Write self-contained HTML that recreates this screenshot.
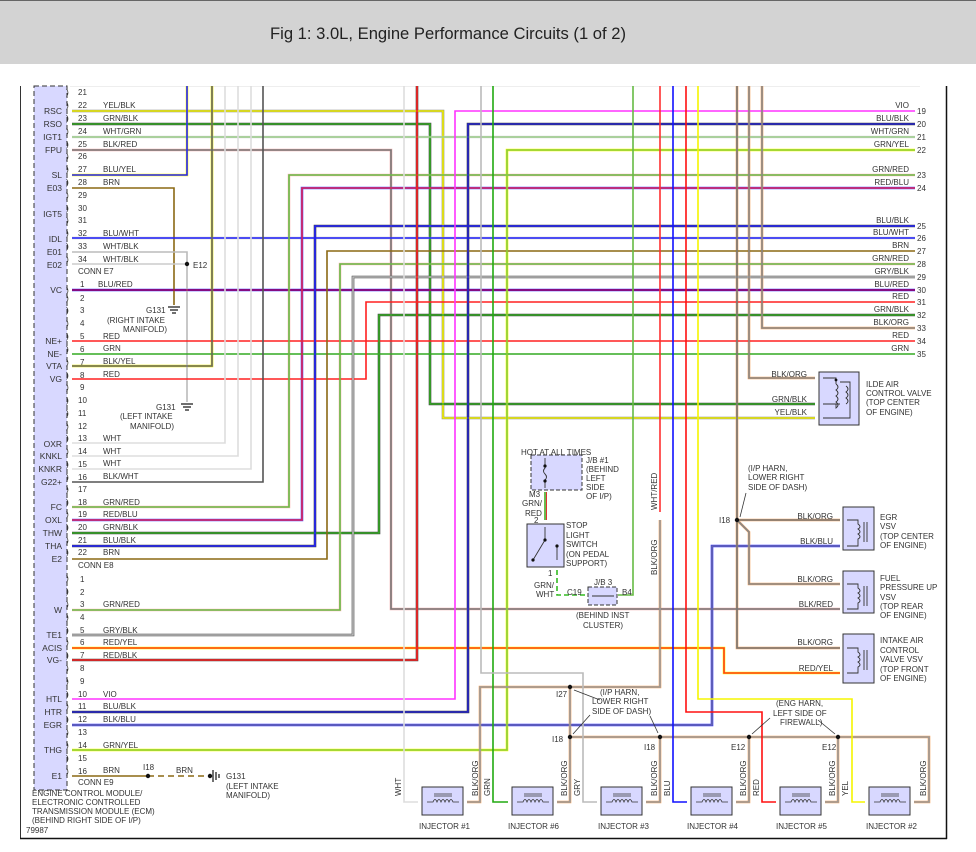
<!DOCTYPE html>
<html><head><meta charset="utf-8"><style>
html,body{margin:0;padding:0;background:#fff;}
svg{display:block;font-family:"Liberation Sans",sans-serif;}
polyline,line,path{fill:none;}
.t{font-size:8px;fill:#333;}
.tp{font-size:8.5px;fill:#333;}
</style></head><body>
<svg width="976" height="852" viewBox="0 0 976 852" xmlns="http://www.w3.org/2000/svg">
<rect x="0" y="0" width="976" height="64" fill="#d3d3d3"/>
<line x1="0" y1="0.5" x2="976" y2="0.5" stroke="#666" stroke-width="1"/>
<text x="448" y="39" text-anchor="middle" font-size="17" fill="#222" textLength="356" lengthAdjust="spacingAndGlyphs">Fig 1: 3.0L, Engine Performance Circuits (1 of 2)</text>
<line x1="70" y1="86.5" x2="920" y2="86.5" stroke="#eee"/>
<!-- frame -->
<line x1="20.5" y1="86" x2="20.5" y2="839" stroke="#333"/>
<line x1="946.5" y1="86" x2="946.5" y2="839" stroke="#111" stroke-width="1.5"/>
<line x1="20" y1="838.5" x2="947" y2="838.5" stroke="#111" stroke-width="1.5"/>
<!-- ECM box -->
<rect x="34" y="86" width="33" height="704" fill="#d8d8ff" stroke="#333" stroke-dasharray="5,3"/>

<!-- wires: underlayer (secondary colour) -->
<g stroke-width="2.6">
<polyline stroke="#888" points="72,111 443,111 443,418 815,418"/>
<polyline stroke="#444" points="72,124 430,124 430,404 815,404"/>
<polyline stroke="#ddd" points="72,137 915,137"/>
<polyline stroke="#f4b0b0" points="72,150 391,150 391,609 840,609"/>
<polyline stroke="#ff0" points="72,175 187,175 187,86"/>
<polyline stroke="#ccc" points="72,238 915,238"/>
<polyline stroke="#3333ff" points="72,290 915,290"/>
<polyline stroke="#ee0" points="72,366 212,366 212,86"/>
<polyline stroke="#fbb" points="72,507 289,507 289,175 915,175"/>
<polyline stroke="#5555ff" points="72,520 302,520 302,188 915,188"/>
<polyline stroke="#444" points="72,533 379,533 379,315 915,315"/>
<polyline stroke="#444" points="72,546 315,546 315,226 915,226"/>
<polyline stroke="#fbb" points="72,610 340,610 340,264 915,264"/>
<polyline stroke="#444" points="72,635 353,635 353,277 915,277"/>
<polyline stroke="#ff0" points="72,648 724,648 724,673 840,673"/>
<polyline stroke="#444" points="72,660 417,660 417,86"/>
<polyline stroke="#444" points="72,712 468,712 468,124 915,124"/>
<polyline stroke="#3333ff" points="72,725 712,725 712,546 840,546"/>
<polyline stroke="#ff0" points="72,750 507,750 507,150 915,150"/>
<polyline stroke="#f4a460" points="915,328 762,328 762,86"/>
<polyline stroke="#f4a460" points="749,86 749,378 815,378"/>
<polyline stroke="#f4a460" points="737,86 737,648 840,648"/>
<polyline stroke="#f4a460" points="737,520 840,520"/>
<polyline stroke="#f4a460" points="737,520 749,532 749,584 840,584"/>
<polyline stroke="#f4a460" points="660,520 660,687 480,687 480,802 467,802"/>
<polyline stroke="#f4a460" points="570,687 570,802 557,802"/>
<polyline stroke="#f4a460" points="570,737 929,737 929,802 914,802"/>
<polyline stroke="#f4a460" points="660,737 660,802 646,802"/>
<polyline stroke="#f4a460" points="749,737 749,802 736,802"/>
<polyline stroke="#f4a460" points="838,737 838,802 825,802"/>
</g>
<!-- wires: main colour -->
<g stroke-width="1.6">
<polyline stroke="#f0f000" points="72,111 443,111 443,418 815,418"/>
<polyline stroke="#33aa22" points="72,124 430,124 430,404 815,404"/>
<polyline stroke="#99cc88" points="72,137 915,137"/>
<polyline stroke="#777" points="72,150 391,150 391,609 840,609"/>
<polyline stroke="#2222ff" points="72,175 187,175 187,86"/>
<polyline stroke="#8b6914" points="72,188 174,188 174,305"/>
<polyline stroke="#2222ff" points="72,238 915,238"/>
<polyline stroke="#bbb" points="72,252 187,252 187,402"/>
<polyline stroke="#ccc" points="72,264 187,264"/>
<polyline stroke="#a0005a" points="72,290 915,290"/>
<polyline stroke="#ff2020" points="72,341 915,341"/>
<polyline stroke="#33aa22" points="72,354 915,354"/>
<polyline stroke="#666" points="72,366 212,366 212,86"/>
<polyline stroke="#ff2020" points="72,379 366,379 366,302 915,302"/>
<polyline stroke="#ddd" points="72,443 225,443 225,86"/>
<polyline stroke="#ddd" points="72,456 238,456 238,86"/>
<polyline stroke="#ddd" points="72,469 251,469 251,86"/>
<polyline stroke="#555" points="72,482 263,482 263,86"/>
<polyline stroke="#66bb44" points="72,507 289,507 289,175 915,175"/>
<polyline stroke="#dd2255" points="72,520 302,520 302,188 915,188"/>
<polyline stroke="#33aa22" points="72,533 379,533 379,315 915,315"/>
<polyline stroke="#2222ff" points="72,546 315,546 315,226 915,226"/>
<polyline stroke="#8b6914" points="72,559 327,559 327,251 915,251"/>
<polyline stroke="#66bb44" points="72,610 340,610 340,264 915,264"/>
<polyline stroke="#bbb" points="72,635 353,635 353,277 915,277"/>
<polyline stroke="#ff3b1b" points="72,648 724,648 724,673 840,673"/>
<polyline stroke="#ff2020" points="72,660 417,660 417,86"/>
<polyline stroke="#ff33ff" points="72,699 455,699 455,111 915,111"/>
<polyline stroke="#2222cc" points="72,712 468,712 468,124 915,124"/>
<polyline stroke="#6666aa" points="72,725 712,725 712,546 840,546"/>
<polyline stroke="#88cc44" points="72,750 507,750 507,150 915,150"/>
<polyline stroke="#8b6914" points="72,776 148,776"/>
<polyline stroke="#8b6914" stroke-dasharray="6,4" points="148,776 210,776"/>
<polyline stroke="#888" points="915,328 762,328 762,86"/>
<polyline stroke="#888" points="749,86 749,378 815,378"/>
<polyline stroke="#777" points="737,86 737,648 840,648"/>
<polyline stroke="#777" points="737,520 840,520"/>
<polyline stroke="#888" points="737,520 749,532 749,584 840,584"/>
<polyline stroke="#ff3030" points="660,86 660,512"/>
<polyline stroke="#999" points="660,520 660,687 480,687 480,802 467,802"/>
<polyline stroke="#999" points="570,687 570,802 557,802"/>
<polyline stroke="#999" points="570,737 929,737 929,802 914,802"/>
<polyline stroke="#999" points="660,737 660,802 646,802"/>
<polyline stroke="#999" points="749,737 749,802 736,802"/>
<polyline stroke="#999" points="838,737 838,802 825,802"/>
<polyline stroke="#ddd" points="404,86 404,802 418,802"/>
<polyline stroke="#22aa11" points="493,86 493,802 508,802"/>
<polyline stroke="#bbb" points="481,86 481,673 583,673 583,802 597,802"/>
<polyline stroke="#1111ff" points="673,86 673,802 687,802"/>
<polyline stroke="#ff1010" points="686,86 686,712 762,712 762,802 776,802"/>
<polyline stroke="#f5f500" points="698,86 698,699 852,699 852,802 865,802"/>
<polyline stroke="#66bb44" points="633,86 633,595 618,595"/>
<polyline stroke="#44aa22" points="545,492 545,520"/>
<polyline stroke="#33bb22" stroke-dasharray="5,3" points="557,570 557,595 586,595"/>
</g>
<line x1="546.5" y1="492" x2="546.5" y2="520" stroke="#d33" stroke-width="1"/>

<!-- dots / grounds -->
<g fill="#111">
<circle cx="187" cy="264" r="2.2"/>
<circle cx="148" cy="776" r="2.2"/><circle cx="210" cy="776" r="2.2"/>
<circle cx="570" cy="687" r="2.2"/><circle cx="570" cy="737" r="2.2"/>
<circle cx="660" cy="737" r="2.2"/><circle cx="749" cy="737" r="2.2"/><circle cx="838" cy="737" r="2.2"/>
<circle cx="737" cy="520" r="2.2"/>
</g>
<g stroke="#111" stroke-width="1.2">
<line x1="168" y1="307" x2="180" y2="307"/><line x1="170" y1="310" x2="178" y2="310"/><line x1="172" y1="313" x2="176" y2="313"/>
<line x1="181" y1="404" x2="193" y2="404"/><line x1="183" y1="407" x2="191" y2="407"/><line x1="185" y1="410" x2="189" y2="410"/>
<line x1="213" y1="770" x2="213" y2="782"/><line x1="216" y1="772" x2="216" y2="780"/><line x1="219" y1="774" x2="219" y2="778"/>
</g>

<!-- pin symbols -->
<g class="tp">
<text x="66" y="95">)</text><text x="66" y="108">)</text><text x="66" y="121">)</text><text x="66" y="134">)</text><text x="66" y="147">)</text><text x="66" y="159">)</text><text x="66" y="172">)</text><text x="66" y="185">)</text><text x="66" y="198">)</text><text x="66" y="211">)</text><text x="66" y="223">)</text><text x="66" y="236">)</text><text x="66" y="249">)</text><text x="66" y="262">)</text>
<text x="66" y="293">)</text><text x="66" y="301">)</text><text x="66" y="313">)</text><text x="66" y="326">)</text><text x="66" y="339">)</text><text x="66" y="352">)</text><text x="66" y="365">)</text><text x="66" y="378">)</text><text x="66" y="390">)</text><text x="66" y="403">)</text><text x="66" y="416">)</text><text x="66" y="429">)</text><text x="66" y="441">)</text><text x="66" y="454">)</text><text x="66" y="467">)</text><text x="66" y="480">)</text><text x="66" y="492">)</text><text x="66" y="505">)</text><text x="66" y="517">)</text><text x="66" y="530">)</text><text x="66" y="543">)</text><text x="66" y="555">)</text>
<text x="66" y="581">)</text><text x="66" y="594">)</text><text x="66" y="607">)</text><text x="66" y="620">)</text><text x="66" y="633">)</text><text x="66" y="645">)</text><text x="66" y="658">)</text><text x="66" y="671">)</text><text x="66" y="684">)</text><text x="66" y="697">)</text><text x="66" y="709">)</text><text x="66" y="722">)</text><text x="66" y="735">)</text><text x="66" y="748">)</text><text x="66" y="761">)</text><text x="66" y="774">)</text>
</g>
<!-- pin names -->
<g class="tp" text-anchor="end">
<text x="62" y="114">RSC</text><text x="62" y="127">RSO</text><text x="62" y="140">IGT1</text><text x="62" y="153">FPU</text><text x="62" y="178">SL</text><text x="62" y="191">E03</text><text x="62" y="217">IGT5</text><text x="62" y="242">IDL</text><text x="62" y="255">E01</text><text x="62" y="268">E02</text>
<text x="62" y="293">VC</text><text x="62" y="344">NE+</text><text x="62" y="357">NE-</text><text x="62" y="369">VTA</text><text x="62" y="382">VG</text>
<text x="62" y="447">OXR</text><text x="62" y="459">KNKL</text><text x="62" y="472">KNKR</text><text x="62" y="485">G22+</text><text x="62" y="510">FC</text><text x="62" y="523">OXL</text><text x="62" y="536">THW</text><text x="62" y="549">THA</text><text x="62" y="562">E2</text>
<text x="62" y="613">W</text><text x="62" y="638">TE1</text><text x="62" y="651">ACIS</text><text x="62" y="663">VG-</text><text x="62" y="702">HTL</text><text x="62" y="715">HTR</text><text x="62" y="728">EGR</text><text x="62" y="753">THG</text><text x="62" y="779">E1</text>
</g>
<!-- pin numbers + wire colour labels -->
<g class="t">
<text x="78" y="95">21</text><text x="78" y="108">22</text><text x="78" y="121">23</text><text x="78" y="134">24</text><text x="78" y="147">25</text><text x="78" y="159">26</text><text x="78" y="172">27</text><text x="78" y="185">28</text><text x="78" y="198">29</text><text x="78" y="211">30</text><text x="78" y="223">31</text><text x="78" y="236">32</text><text x="78" y="249">33</text><text x="78" y="262">34</text>
<text x="103" y="108">YEL/BLK</text><text x="103" y="121">GRN/BLK</text><text x="103" y="134">WHT/GRN</text><text x="103" y="147">BLK/RED</text><text x="103" y="172">BLU/YEL</text><text x="103" y="185">BRN</text><text x="103" y="236">BLU/WHT</text><text x="103" y="249">WHT/BLK</text><text x="103" y="262">WHT/BLK</text>
<text x="78" y="274">CONN E7</text><text x="193" y="268">E12</text>
<text x="80" y="287">1</text><text x="98" y="287">BLU/RED</text>
<text x="80" y="301">2</text><text x="80" y="313">3</text><text x="80" y="326">4</text><text x="80" y="339">5</text><text x="80" y="352">6</text><text x="80" y="365">7</text><text x="80" y="378">8</text><text x="80" y="390">9</text><text x="78" y="403">10</text><text x="78" y="416">11</text><text x="78" y="429">12</text><text x="78" y="441">13</text><text x="78" y="454">14</text><text x="78" y="467">15</text><text x="78" y="480">16</text><text x="78" y="492">17</text><text x="78" y="505">18</text><text x="78" y="517">19</text><text x="78" y="530">20</text><text x="78" y="543">21</text><text x="78" y="555">22</text>
<text x="103" y="339">RED</text><text x="103" y="351">GRN</text><text x="103" y="364">BLK/YEL</text><text x="103" y="377">RED</text>
<text x="146" y="313">G131</text><text x="107" y="323">(RIGHT INTAKE</text><text x="123" y="332">MANIFOLD)</text>
<text x="156" y="410">G131</text><text x="120" y="419">(LEFT INTAKE</text><text x="130" y="429">MANIFOLD)</text>
<text x="103" y="441">WHT</text><text x="103" y="454">WHT</text><text x="103" y="466">WHT</text><text x="103" y="479">BLK/WHT</text><text x="103" y="505">GRN/RED</text><text x="103" y="517">RED/BLU</text><text x="103" y="530">GRN/BLK</text><text x="103" y="543">BLU/BLK</text><text x="103" y="555">BRN</text>
<text x="78" y="568">CONN E8</text>
<text x="80" y="582">1</text><text x="80" y="595">2</text><text x="80" y="607">3</text><text x="80" y="620">4</text><text x="80" y="633">5</text><text x="80" y="645">6</text><text x="80" y="658">7</text><text x="80" y="671">8</text><text x="80" y="684">9</text><text x="78" y="697">10</text><text x="78" y="709">11</text><text x="78" y="722">12</text><text x="78" y="735">13</text><text x="78" y="748">14</text><text x="78" y="761">15</text><text x="78" y="774">16</text>
<text x="103" y="607">GRN/RED</text><text x="103" y="633">GRY/BLK</text><text x="103" y="645">RED/YEL</text><text x="103" y="658">RED/BLK</text><text x="103" y="697">VIO</text><text x="103" y="709">BLU/BLK</text><text x="103" y="722">BLK/BLU</text><text x="103" y="748">GRN/YEL</text><text x="103" y="773">BRN</text>
<text x="143" y="770">I18</text><text x="176" y="773">BRN</text>
<text x="226" y="779">G131</text><text x="226" y="789">(LEFT INTAKE</text><text x="226" y="798">MANIFOLD)</text>
<text x="78" y="785">CONN E9</text>
<text x="32" y="796">ENGINE CONTROL MODULE/</text><text x="32" y="805">ELECTRONIC CONTROLLED</text><text x="32" y="814">TRANSMISSION MODULE (ECM)</text><text x="32" y="823">(BEHIND RIGHT SIDE OF I/P)</text>
<text x="26" y="833">79987</text>
</g>
<!-- right side labels -->
<g class="t" text-anchor="end">
<text x="909" y="108">VIO</text><text x="909" y="121">BLU/BLK</text><text x="909" y="134">WHT/GRN</text><text x="909" y="147">GRN/YEL</text><text x="909" y="172">GRN/RED</text><text x="909" y="185">RED/BLU</text><text x="909" y="223">BLU/BLK</text><text x="909" y="235">BLU/WHT</text><text x="909" y="248">BRN</text><text x="909" y="261">GRN/RED</text><text x="909" y="274">GRY/BLK</text><text x="909" y="287">BLU/RED</text><text x="909" y="299">RED</text><text x="909" y="312">GRN/BLK</text><text x="909" y="325">BLK/ORG</text><text x="909" y="338">RED</text><text x="909" y="351">GRN</text>
<text x="807" y="377">BLK/ORG</text><text x="807" y="402">GRN/BLK</text><text x="807" y="415">YEL/BLK</text>
<text x="833" y="519">BLK/ORG</text><text x="833" y="544">BLK/BLU</text><text x="833" y="582">BLK/ORG</text><text x="833" y="607">BLK/RED</text><text x="833" y="645">BLK/ORG</text><text x="833" y="671">RED/YEL</text>
</g>
<g class="t">
<text x="917" y="114">19</text><text x="917" y="127">20</text><text x="917" y="140">21</text><text x="917" y="153">22</text><text x="917" y="178">23</text><text x="917" y="191">24</text><text x="917" y="229">25</text><text x="917" y="241">26</text><text x="917" y="254">27</text><text x="917" y="267">28</text><text x="917" y="280">29</text><text x="917" y="293">30</text><text x="917" y="305">31</text><text x="917" y="318">32</text><text x="917" y="331">33</text><text x="917" y="344">34</text><text x="917" y="357">35</text>
<text x="866" y="387">ILDE AIR</text><text x="866" y="396">CONTROL VALVE</text><text x="866" y="405">(TOP CENTER</text><text x="866" y="415">OF ENGINE)</text>
<text x="880" y="520">EGR</text><text x="880" y="529">VSV</text><text x="880" y="539">(TOP CENTER</text><text x="880" y="548">OF ENGINE)</text>
<text x="880" y="581">FUEL</text><text x="880" y="590">PRESSURE UP</text><text x="880" y="600">VSV</text><text x="880" y="609">(TOP REAR</text><text x="880" y="618">OF ENGINE)</text>
<text x="880" y="643">INTAKE AIR</text><text x="880" y="653">CONTROL</text><text x="880" y="662">VALVE VSV</text><text x="880" y="672">(TOP FRONT</text><text x="880" y="681">OF ENGINE)</text>
<text x="748" y="471">(I/P HARN,</text><text x="748" y="480">LOWER RIGHT</text><text x="748" y="490">SIDE OF DASH)</text>
<text x="719" y="523">I18</text>
<text x="521" y="455">HOT AT ALL TIMES</text>
<text x="550" y="467">STOP</text><text x="550" y="477">FUSE</text><text x="550" y="487">15A</text>
<text x="586" y="463">J/B #1</text><text x="586" y="472">(BEHIND</text><text x="586" y="481">LEFT</text><text x="586" y="490">SIDE</text><text x="586" y="499">OF I/P)</text>
<text x="529" y="497">M3</text><text x="522" y="506">GRN/</text><text x="525" y="516">RED</text><text x="534" y="523">2</text>
<text x="566" y="528">STOP</text><text x="566" y="538">LIGHT</text><text x="566" y="547">SWITCH</text><text x="566" y="557">(ON PEDAL</text><text x="566" y="566">SUPPORT)</text>
<text x="548" y="576">1</text><text x="534" y="588">GRN/</text><text x="536" y="597">WHT</text><text x="567" y="595">C19</text>
<text x="594" y="585">J/B 3</text><text x="622" y="595">B4</text>
<text x="576" y="618">(BEHIND INST</text><text x="583" y="628">CLUSTER)</text>
<text x="556" y="697">I27</text><text x="600" y="695">(I/P HARN,</text><text x="592" y="704">LOWER RIGHT</text><text x="592" y="714">SIDE OF DASH)</text>
<text x="552" y="742">I18</text><text x="644" y="750">I18</text>
<text x="776" y="706">(ENG HARN,</text><text x="773" y="716">LEFT SIDE OF</text><text x="780" y="725">FIREWALL)</text>
<text x="731" y="750">E12</text><text x="822" y="750">E12</text>
<text x="419" y="829">INJECTOR #1</text><text x="508" y="829">INJECTOR #6</text><text x="598" y="829">INJECTOR #3</text><text x="687" y="829">INJECTOR #4</text><text x="776" y="829">INJECTOR #5</text><text x="866" y="829">INJECTOR #2</text>
</g>
<!-- rotated labels -->
<g class="t">
<text transform="translate(401,796) rotate(-90)">WHT</text>
<text transform="translate(478,796) rotate(-90)">BLK/ORG</text>
<text transform="translate(490,796) rotate(-90)">GRN</text>
<text transform="translate(567,796) rotate(-90)">BLK/ORG</text>
<text transform="translate(580,796) rotate(-90)">GRY</text>
<text transform="translate(657,796) rotate(-90)">BLK/ORG</text>
<text transform="translate(670,796) rotate(-90)">BLU</text>
<text transform="translate(746,796) rotate(-90)">BLK/ORG</text>
<text transform="translate(759,796) rotate(-90)">RED</text>
<text transform="translate(835,796) rotate(-90)">BLK/ORG</text>
<text transform="translate(848,796) rotate(-90)">YEL</text>
<text transform="translate(926,796) rotate(-90)">BLK/ORG</text>
<text transform="translate(657,510) rotate(-90)">WHT/RED</text>
<text transform="translate(657,575) rotate(-90)">BLK/ORG</text>
</g>
<!-- leader arrows -->
<g stroke="#333" stroke-width="0.8">
<line x1="746" y1="493" x2="740" y2="517"/>
<line x1="600" y1="700" x2="574" y2="690"/><line x1="590" y1="715" x2="573" y2="734"/><line x1="650" y1="716" x2="658" y2="733"/>
<line x1="770" y1="718" x2="752" y2="734"/><line x1="818" y1="720" x2="835" y2="734"/>
</g>
<!-- components -->
<g fill="#d8d8ff" stroke="#333">
<rect x="819" y="372" width="40" height="53"/>
<rect x="843" y="507" width="31" height="43"/>
<rect x="843" y="571" width="31" height="42"/>
<rect x="843" y="634" width="31" height="49"/>
<rect x="531" y="455" width="51" height="35" stroke-dasharray="4,2"/>
<rect x="527" y="524" width="37" height="43"/>
<rect x="588" y="587" width="29" height="18" stroke-dasharray="4,2"/>
<rect x="422" y="787" width="41" height="28"/>
<rect x="512" y="787" width="41" height="28"/>
<rect x="601" y="787" width="41" height="28"/>
<rect x="691" y="787" width="41" height="28"/>
<rect x="780" y="787" width="41" height="28"/>
<rect x="869" y="787" width="41" height="28"/>
</g>
<!-- component internals -->
<g stroke="#333" stroke-width="0.9">
<path d="M823,378 H836 V384 M823,404 H840 M823,418 H850 V382 H840 M836,384 q4,3 0,6 q4,3 0,6 q4,3 0,6 q4,3 0,6 V404 M846,386 q4,3 0,6 q4,3 0,6 q4,3 0,6"/>
<path d="M847,520 H858 V524 q4,3 0,5 q4,3 0,5 q4,3 0,5 V546 H847 M864,522 V542 M867,522 V542"/>
<path d="M847,584 H858 V588 q4,3 0,5 q4,3 0,5 q4,3 0,5 V609 H847 M864,586 V606 M867,586 V606"/>
<path d="M847,648 H858 V652 q4,3 0,5 q4,3 0,5 q4,3 0,5 V673 H847 M864,650 V670 M867,650 V670"/>
<path d="M545,458 V468 q-3,3 0,6 q3,3 0,6 V488"/>
<path d="M545,527 V540 L533,560 M557,560 V546"/>
<path d="M592,596 H614"/>
</g>
<g fill="#111"><circle cx="545" cy="466" r="1.6"/><circle cx="545" cy="481" r="1.6"/><circle cx="545" cy="540" r="1.6"/><circle cx="533" cy="560" r="1.6"/><circle cx="557" cy="546" r="1.6"/><circle cx="836" cy="380" r="1.4"/></g>
<!-- injector coils -->
<g stroke="#333" stroke-width="0.8">
<path d="M427,802 H433 q2,-5 4,0 q2,-5 4,0 q2,-5 4,0 q2,-5 4,0 q2,-5 4,0 H459 M434,796 H452 M434,794 H452"/>
<path d="M517,802 H523 q2,-5 4,0 q2,-5 4,0 q2,-5 4,0 q2,-5 4,0 q2,-5 4,0 H549 M524,796 H542 M524,794 H542"/>
<path d="M606,802 H612 q2,-5 4,0 q2,-5 4,0 q2,-5 4,0 q2,-5 4,0 q2,-5 4,0 H638 M613,796 H631 M613,794 H631"/>
<path d="M696,802 H702 q2,-5 4,0 q2,-5 4,0 q2,-5 4,0 q2,-5 4,0 q2,-5 4,0 H728 M703,796 H721 M703,794 H721"/>
<path d="M785,802 H791 q2,-5 4,0 q2,-5 4,0 q2,-5 4,0 q2,-5 4,0 q2,-5 4,0 H817 M792,796 H810 M792,794 H810"/>
<path d="M874,802 H880 q2,-5 4,0 q2,-5 4,0 q2,-5 4,0 q2,-5 4,0 q2,-5 4,0 H906 M881,796 H899 M881,794 H899"/>
</g>
</svg>
</body></html>
